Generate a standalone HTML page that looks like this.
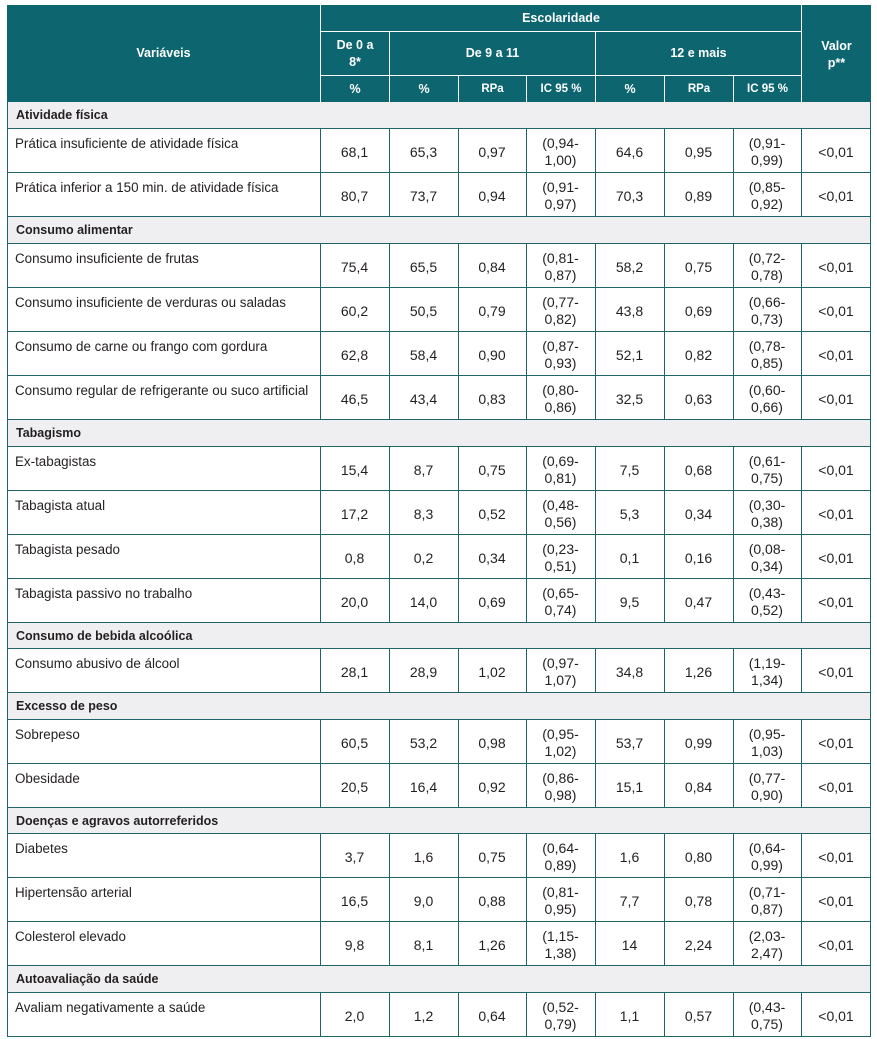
<!DOCTYPE html>
<html><head><meta charset="utf-8">
<style>
body{margin:0;width:877px;height:1039px;position:relative;background:#fff;font-family:"Liberation Sans",sans-serif;overflow:hidden}
.hd{position:absolute;left:7px;top:5px;width:864px;height:97px;background:#0d6570}
.ht{position:absolute;color:#fff;font-weight:bold;font-size:12.5px;display:flex;align-items:center;justify-content:center;text-align:center;line-height:17px}
.sm{font-size:11.5px}
.wl{position:absolute;background:#fff}
.sb{position:absolute;left:7px;width:864px;background:#efeff1}
.st{position:absolute;left:7px;width:864px;font-weight:bold;font-size:12.5px;color:#231f20;display:flex;align-items:center;padding-left:9px;box-sizing:border-box}
.r{position:absolute;left:7px;width:864px;display:flex;color:#231f20}
.r>div{display:flex;align-items:center;justify-content:center;text-align:center;font-size:14px;line-height:17px;padding-top:3px;box-sizing:border-box;width:69px;height:100%}
.r>div:nth-child(1){width:313px;justify-content:flex-start;align-items:flex-start;text-align:left;font-size:13.4px;line-height:16px;padding:7px 0 0 8px}
.r>div:nth-child(4),.r>div:nth-child(8){width:68px}
.r>div:nth-child(9){width:70px}
.hl{position:absolute;left:7px;width:864px;height:1px;background:#1f6469}
.vl{position:absolute;width:1px;background:#1f6469}
</style></head><body>
<div class="hd"></div>
<!-- header white lines -->
<div class="wl" style="left:320px;top:5px;width:1px;height:97px"></div>
<div class="wl" style="left:801px;top:5px;width:1px;height:97px"></div>
<div class="wl" style="left:320px;top:31px;width:481px;height:1px"></div>
<div class="wl" style="left:320px;top:75px;width:481px;height:1px"></div>
<div class="wl" style="left:389px;top:31px;width:1px;height:71px"></div>
<div class="wl" style="left:595px;top:31px;width:1px;height:71px"></div>
<div class="wl" style="left:458px;top:75px;width:1px;height:27px"></div>
<div class="wl" style="left:526px;top:75px;width:1px;height:27px"></div>
<div class="wl" style="left:664px;top:75px;width:1px;height:27px"></div>
<div class="wl" style="left:733px;top:75px;width:1px;height:27px"></div>
<!-- header text -->
<div class="ht" style="left:7px;top:5px;width:313px;height:97px">Variáveis</div>
<div class="ht" style="left:321px;top:5px;width:480px;height:26px">Escolaridade</div>
<div class="ht" style="left:321px;top:32px;width:68px;height:43px">De 0 a<br>8*</div>
<div class="ht" style="left:390px;top:32px;width:205px;height:43px">De 9 a 11</div>
<div class="ht" style="left:596px;top:32px;width:205px;height:43px">12 e mais</div>
<div class="ht" style="left:802px;top:5px;width:69px;height:97px;padding-top:3px;box-sizing:border-box">Valor<br>p**</div>
<div class="ht" style="left:321px;top:76px;width:68px;height:26px">%</div>
<div class="ht" style="left:390px;top:76px;width:68px;height:26px">%</div>
<div class="ht sm" style="left:459px;top:76px;width:67px;height:26px">RPa</div>
<div class="ht sm" style="left:527px;top:76px;width:68px;height:26px">IC 95 %</div>
<div class="ht" style="left:596px;top:76px;width:68px;height:26px">%</div>
<div class="ht sm" style="left:665px;top:76px;width:68px;height:26px">RPa</div>
<div class="ht sm" style="left:734px;top:76px;width:67px;height:26px">IC 95 %</div>

<!-- section backgrounds -->
<div class="sb" style="top:102px;height:26px"></div>
<div class="sb" style="top:216px;height:27px"></div>
<div class="sb" style="top:419px;height:27px"></div>
<div class="sb" style="top:622px;height:26px"></div>
<div class="sb" style="top:692px;height:27px"></div>
<div class="sb" style="top:807px;height:26px"></div>
<div class="sb" style="top:965px;height:27px"></div>

<!-- section text -->
<div class="st" style="top:102px;height:26px">Atividade física</div>
<div class="st" style="top:217px;height:26px">Consumo alimentar</div>
<div class="st" style="top:420px;height:26px">Tabagismo</div>
<div class="st" style="top:623px;height:25px">Consumo de bebida alcoólica</div>
<div class="st" style="top:693px;height:26px">Excesso de peso</div>
<div class="st" style="top:808px;height:25px">Doenças e agravos autorreferidos</div>
<div class="st" style="top:966px;height:26px">Autoavaliação da saúde</div>

<!-- data rows -->
<div class="r" style="top:129px;height:43px"><div>Prática insuficiente de atividade física</div><div>68,1</div><div>65,3</div><div>0,97</div><div>(0,94-<br>1,00)</div><div>64,6</div><div>0,95</div><div>(0,91-<br>0,99)</div><div>&lt;0,01</div></div>
<div class="r" style="top:173px;height:43px"><div>Prática inferior a 150 min. de atividade física</div><div>80,7</div><div>73,7</div><div>0,94</div><div>(0,91-<br>0,97)</div><div>70,3</div><div>0,89</div><div>(0,85-<br>0,92)</div><div>&lt;0,01</div></div>
<div class="r" style="top:244px;height:43px"><div>Consumo insuficiente de frutas</div><div>75,4</div><div>65,5</div><div>0,84</div><div>(0,81-<br>0,87)</div><div>58,2</div><div>0,75</div><div>(0,72-<br>0,78)</div><div>&lt;0,01</div></div>
<div class="r" style="top:288px;height:43px"><div>Consumo insuficiente de verduras ou saladas</div><div>60,2</div><div>50,5</div><div>0,79</div><div>(0,77-<br>0,82)</div><div>43,8</div><div>0,69</div><div>(0,66-<br>0,73)</div><div>&lt;0,01</div></div>
<div class="r" style="top:332px;height:43px"><div>Consumo de carne ou frango com gordura</div><div>62,8</div><div>58,4</div><div>0,90</div><div>(0,87-<br>0,93)</div><div>52,1</div><div>0,82</div><div>(0,78-<br>0,85)</div><div>&lt;0,01</div></div>
<div class="r" style="top:376px;height:43px"><div>Consumo regular de refrigerante ou suco artificial</div><div>46,5</div><div>43,4</div><div>0,83</div><div>(0,80-<br>0,86)</div><div>32,5</div><div>0,63</div><div>(0,60-<br>0,66)</div><div>&lt;0,01</div></div>
<div class="r" style="top:447px;height:43px"><div>Ex-tabagistas</div><div>15,4</div><div>8,7</div><div>0,75</div><div>(0,69-<br>0,81)</div><div>7,5</div><div>0,68</div><div>(0,61-<br>0,75)</div><div>&lt;0,01</div></div>
<div class="r" style="top:491px;height:43px"><div>Tabagista atual</div><div>17,2</div><div>8,3</div><div>0,52</div><div>(0,48-<br>0,56)</div><div>5,3</div><div>0,34</div><div>(0,30-<br>0,38)</div><div>&lt;0,01</div></div>
<div class="r" style="top:535px;height:43px"><div>Tabagista pesado</div><div>0,8</div><div>0,2</div><div>0,34</div><div>(0,23-<br>0,51)</div><div>0,1</div><div>0,16</div><div>(0,08-<br>0,34)</div><div>&lt;0,01</div></div>
<div class="r" style="top:579px;height:43px"><div>Tabagista passivo no trabalho</div><div>20,0</div><div>14,0</div><div>0,69</div><div>(0,65-<br>0,74)</div><div>9,5</div><div>0,47</div><div>(0,43-<br>0,52)</div><div>&lt;0,01</div></div>
<div class="r" style="top:649px;height:43px"><div>Consumo abusivo de álcool</div><div>28,1</div><div>28,9</div><div>1,02</div><div>(0,97-<br>1,07)</div><div>34,8</div><div>1,26</div><div>(1,19-<br>1,34)</div><div>&lt;0,01</div></div>
<div class="r" style="top:720px;height:43px"><div>Sobrepeso</div><div>60,5</div><div>53,2</div><div>0,98</div><div>(0,95-<br>1,02)</div><div>53,7</div><div>0,99</div><div>(0,95-<br>1,03)</div><div>&lt;0,01</div></div>
<div class="r" style="top:764px;height:43px"><div>Obesidade</div><div>20,5</div><div>16,4</div><div>0,92</div><div>(0,86-<br>0,98)</div><div>15,1</div><div>0,84</div><div>(0,77-<br>0,90)</div><div>&lt;0,01</div></div>
<div class="r" style="top:834px;height:43px"><div>Diabetes</div><div>3,7</div><div>1,6</div><div>0,75</div><div>(0,64-<br>0,89)</div><div>1,6</div><div>0,80</div><div>(0,64-<br>0,99)</div><div>&lt;0,01</div></div>
<div class="r" style="top:878px;height:43px"><div>Hipertensão arterial</div><div>16,5</div><div>9,0</div><div>0,88</div><div>(0,81-<br>0,95)</div><div>7,7</div><div>0,78</div><div>(0,71-<br>0,87)</div><div>&lt;0,01</div></div>
<div class="r" style="top:922px;height:43px"><div>Colesterol elevado</div><div>9,8</div><div>8,1</div><div>1,26</div><div>(1,15-<br>1,38)</div><div>14</div><div>2,24</div><div>(2,03-<br>2,47)</div><div>&lt;0,01</div></div>
<div class="r" style="top:993px;height:43px"><div>Avaliam negativamente a saúde</div><div>2,0</div><div>1,2</div><div>0,64</div><div>(0,52-<br>0,79)</div><div>1,1</div><div>0,57</div><div>(0,43-<br>0,75)</div><div>&lt;0,01</div></div>

<!-- horizontal lines -->
<div class="hl" style="top:128px"></div>
<div class="hl" style="top:172px"></div>
<div class="hl" style="top:216px"></div>
<div class="hl" style="top:243px"></div>
<div class="hl" style="top:287px"></div>
<div class="hl" style="top:331px"></div>
<div class="hl" style="top:375px"></div>
<div class="hl" style="top:419px"></div>
<div class="hl" style="top:446px"></div>
<div class="hl" style="top:490px"></div>
<div class="hl" style="top:534px"></div>
<div class="hl" style="top:578px"></div>
<div class="hl" style="top:622px"></div>
<div class="hl" style="top:648px"></div>
<div class="hl" style="top:692px"></div>
<div class="hl" style="top:719px"></div>
<div class="hl" style="top:763px"></div>
<div class="hl" style="top:807px"></div>
<div class="hl" style="top:833px"></div>
<div class="hl" style="top:877px"></div>
<div class="hl" style="top:921px"></div>
<div class="hl" style="top:965px"></div>
<div class="hl" style="top:992px"></div>
<div class="hl" style="top:1036px"></div>

<!-- outer verticals -->
<div class="vl" style="left:7px;top:102px;height:935px"></div>
<div class="vl" style="left:870px;top:102px;height:935px"></div>

<!-- internal verticals per block -->
<div class="vl" style="left:320px;top:128px;height:89px"></div><div class="vl" style="left:389px;top:128px;height:89px"></div><div class="vl" style="left:458px;top:128px;height:89px"></div><div class="vl" style="left:526px;top:128px;height:89px"></div><div class="vl" style="left:595px;top:128px;height:89px"></div><div class="vl" style="left:664px;top:128px;height:89px"></div><div class="vl" style="left:733px;top:128px;height:89px"></div><div class="vl" style="left:801px;top:128px;height:89px"></div>
<div class="vl" style="left:320px;top:243px;height:177px"></div><div class="vl" style="left:389px;top:243px;height:177px"></div><div class="vl" style="left:458px;top:243px;height:177px"></div><div class="vl" style="left:526px;top:243px;height:177px"></div><div class="vl" style="left:595px;top:243px;height:177px"></div><div class="vl" style="left:664px;top:243px;height:177px"></div><div class="vl" style="left:733px;top:243px;height:177px"></div><div class="vl" style="left:801px;top:243px;height:177px"></div>
<div class="vl" style="left:320px;top:446px;height:177px"></div><div class="vl" style="left:389px;top:446px;height:177px"></div><div class="vl" style="left:458px;top:446px;height:177px"></div><div class="vl" style="left:526px;top:446px;height:177px"></div><div class="vl" style="left:595px;top:446px;height:177px"></div><div class="vl" style="left:664px;top:446px;height:177px"></div><div class="vl" style="left:733px;top:446px;height:177px"></div><div class="vl" style="left:801px;top:446px;height:177px"></div>
<div class="vl" style="left:320px;top:648px;height:45px"></div><div class="vl" style="left:389px;top:648px;height:45px"></div><div class="vl" style="left:458px;top:648px;height:45px"></div><div class="vl" style="left:526px;top:648px;height:45px"></div><div class="vl" style="left:595px;top:648px;height:45px"></div><div class="vl" style="left:664px;top:648px;height:45px"></div><div class="vl" style="left:733px;top:648px;height:45px"></div><div class="vl" style="left:801px;top:648px;height:45px"></div>
<div class="vl" style="left:320px;top:719px;height:89px"></div><div class="vl" style="left:389px;top:719px;height:89px"></div><div class="vl" style="left:458px;top:719px;height:89px"></div><div class="vl" style="left:526px;top:719px;height:89px"></div><div class="vl" style="left:595px;top:719px;height:89px"></div><div class="vl" style="left:664px;top:719px;height:89px"></div><div class="vl" style="left:733px;top:719px;height:89px"></div><div class="vl" style="left:801px;top:719px;height:89px"></div>
<div class="vl" style="left:320px;top:833px;height:133px"></div><div class="vl" style="left:389px;top:833px;height:133px"></div><div class="vl" style="left:458px;top:833px;height:133px"></div><div class="vl" style="left:526px;top:833px;height:133px"></div><div class="vl" style="left:595px;top:833px;height:133px"></div><div class="vl" style="left:664px;top:833px;height:133px"></div><div class="vl" style="left:733px;top:833px;height:133px"></div><div class="vl" style="left:801px;top:833px;height:133px"></div>
<div class="vl" style="left:320px;top:992px;height:45px"></div><div class="vl" style="left:389px;top:992px;height:45px"></div><div class="vl" style="left:458px;top:992px;height:45px"></div><div class="vl" style="left:526px;top:992px;height:45px"></div><div class="vl" style="left:595px;top:992px;height:45px"></div><div class="vl" style="left:664px;top:992px;height:45px"></div><div class="vl" style="left:733px;top:992px;height:45px"></div><div class="vl" style="left:801px;top:992px;height:45px"></div>
</body></html>
